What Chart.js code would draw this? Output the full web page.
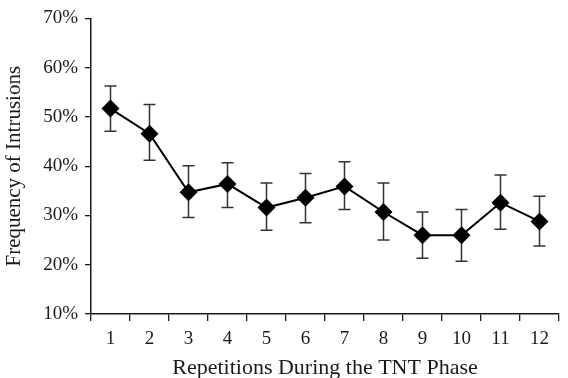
<!DOCTYPE html>
<html>
<head>
<meta charset="utf-8">
<script src="https://cdn.jsdelivr.net/npm/chart.js@4/dist/chart.umd.min.js"></script>
<style>
  html, body { margin: 0; padding: 0; background: #fff; }
  #wrap { width: 568px; height: 378px; }
</style>
</head>
<body>
<div id="wrap"><canvas id="c" width="568" height="378"></canvas></div>
<script>
const categories = ['1','2','3','4','5','6','7','8','9','10','11','12'];
const frequency = [51.7, 46.6, 34.7, 36.4, 31.6, 33.6, 35.9, 30.7, 26.0, 26.0, 32.6, 28.8];
const errUpper  = [56.3, 52.5, 40.1, 40.7, 36.6, 38.5, 40.9, 36.6, 30.7, 31.2, 38.2, 33.9];
const errLower  = [47.1, 41.2, 29.6, 31.6, 27.0, 28.5, 31.2, 25.0, 21.3, 20.7, 27.2, 23.8];
const yTicks = [10, 20, 30, 40, 50, 60, 70];

const FONT = "'Liberation Serif', 'DejaVu Serif', serif";
const INK = '#1a1a1a';

const errorBars = {
  id: 'errorBars',
  beforeDatasetsDraw(chart) {
    const {ctx, scales: {x, y}} = chart;
    ctx.save();
    ctx.strokeStyle = '#333';
    ctx.lineWidth = 1.5;
    categories.forEach((c, i) => {
      const px = x.getPixelForValue(i);
      const top = y.getPixelForValue(errUpper[i]);
      const bot = y.getPixelForValue(errLower[i]);
      const cap = 6;
      ctx.beginPath();
      ctx.moveTo(px, top); ctx.lineTo(px, bot);
      ctx.moveTo(px - cap, top); ctx.lineTo(px + cap, top);
      ctx.moveTo(px - cap, bot); ctx.lineTo(px + cap, bot);
      ctx.stroke();
    });
    ctx.restore();
  }
};

new Chart(document.getElementById('c'), {
  type: 'line',
  data: {
    labels: categories,
    datasets: [{
      data: frequency,
      borderColor: '#000',
      borderWidth: 2,
      backgroundColor: '#000',
      pointStyle: 'rectRot',
      pointRadius: 9,
      pointBorderWidth: 0,
      pointBackgroundColor: '#000',
      tension: 0
    }]
  },
  options: {
    responsive: false,
    animation: false,
    devicePixelRatio: 1,
    layout: { padding: { top: 16, right: 2, left: 0, bottom: 0 } },
    plugins: { legend: { display: false }, tooltip: { enabled: false } },
    scales: {
      x: {
        type: 'category',
        offset: true,
        grid: { offset: true, drawOnChartArea: false, drawTicks: true, tickLength: 7, color: INK, lineWidth: 1.3 },
        border: { display: true, color: INK, width: 1.5 },
        ticks: { color: INK, font: { family: FONT, size: 19 }, padding: 7, maxRotation: 0 },
        title: { display: true, text: 'Repetitions During the TNT Phase', color: INK,
                 font: { family: FONT, size: 22, lineHeight: 1.0 }, padding: { top: 0, bottom: -1 } },
        afterFit(s) { s.height = 64; }
      },
      y: {
        min: 10, max: 70,
        afterBuildTicks(s) { s.ticks = yTicks.map(v => ({ value: v })); },
        grid: { drawOnChartArea: false, drawTicks: true, tickLength: 6, color: INK, lineWidth: 1.3 },
        border: { display: true, color: INK, width: 1.5 },
        ticks: { color: INK, font: { family: FONT, size: 19 }, padding: 7, callback: v => v + '%' },
        title: { display: true, text: 'Frequency of Intrusions', color: INK,
                 font: { family: FONT, size: 21, lineHeight: 1.0 }, padding: { top: 4, bottom: 0 } },
        afterFit(s) { s.width = 91; }
      }
    }
  },
  plugins: [errorBars]
});
</script>
</body>
</html>
